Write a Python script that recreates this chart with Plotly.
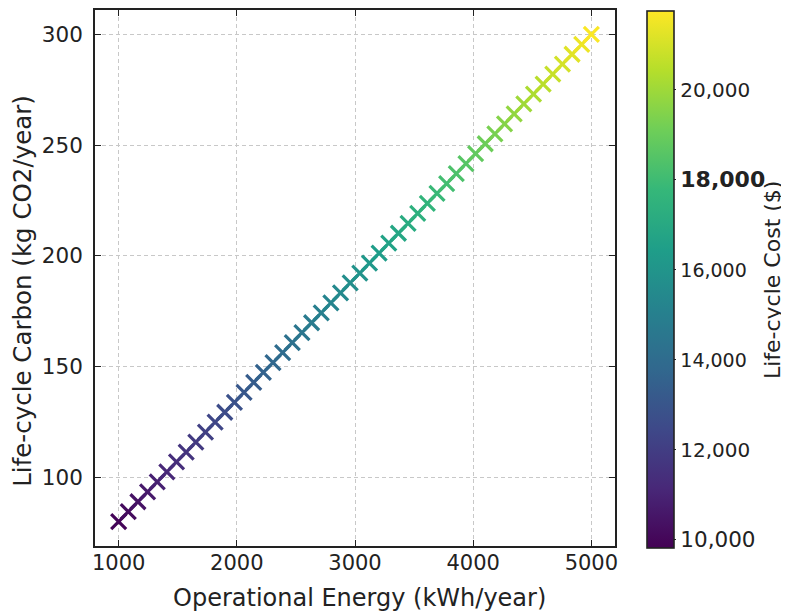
import numpy as np
import plotly.graph_objects as go

# Data (50 evenly spaced design points)
n_points = 50
energy = list(np.linspace(1000, 5000, n_points))      # kWh/year
carbon = list(np.linspace(80, 300, n_points))         # kg CO2/year
cost = list(np.linspace(9950, 21700, n_points))       # $
cost_min, cost_max = 9820, 21760

x_ticks = [1000, 2000, 3000, 4000, 5000]
y_ticks = [100, 150, 200, 250, 300]
cb_ticks = [10000, 12000, 14000, 16000, 18000, 20000]
cb_labels = ["10,000", "12,000", "14,000", "16,000", "18,000", "20,000"]
cb_label_sizes = [21.5, 20, 19, 19, 22, 20]
cb_label_bold = [False, False, False, False, True, False]

font = "DejaVu Sans"
ink = "#222222"

# the page body has an 8px margin, so the figure is drawn 8px smaller
W, H = 781, 604
L, R, T, B = 87, 173.5, 1.5, 66
plot_w = W - L - R
plot_h = H - T - B


def px_x(page_x):
    return (page_x - 8 - L) / plot_w


def px_y(page_y):
    return (H - B - (page_y - 8)) / plot_h


cb_text = []
for lab, sz, bold in zip(cb_labels, cb_label_sizes, cb_label_bold):
    t = f"<span style='font-size:{sz}px'>{lab}</span>"
    cb_text.append(f"<b>{t}</b>" if bold else t)

fig = go.Figure(go.Scatter(
    x=energy, y=carbon, mode="markers", cliponaxis=False,
    marker=dict(
        symbol="x-thin", size=15,
        color=cost, colorscale="Viridis", cmin=cost_min, cmax=cost_max,
        line=dict(width=3.2, color=cost, colorscale="Viridis",
                  cmin=cost_min, cmax=cost_max),
        colorbar=dict(
            x=px_x(647.3), xanchor="left", xref="paper", xpad=0,
            y=px_y(279), yanchor="middle", ypad=0,
            len=538 / plot_h, lenmode="fraction",
            thickness=27, outlinewidth=1.6, outlinecolor=ink,
            tickvals=cb_ticks, ticktext=cb_text, ticks="outside",
            ticklen=2, tickcolor=ink, tickwidth=1.2,
            tickfont=dict(family=font, size=20, color=ink),
        ),
    ),
    showlegend=False,
))

axis_common = dict(
    showline=True, linecolor=ink, linewidth=1.6, mirror="allticks",
    ticks="inside", ticklen=6, tickcolor=ink, tickwidth=1.2,
    showgrid=True, gridcolor="#c8c8c8", griddash="4px,3px", gridwidth=1,
    zeroline=False,
)

fig.update_layout(
    width=W, height=H,
    margin=dict(l=L, r=R, t=T, b=B, autoexpand=False),
    paper_bgcolor="white", plot_bgcolor="white",
    xaxis=dict(range=[800, 5200], tickvals=x_ticks, ticklabelstandoff=-3,
               tickfont=dict(family=font, size=21, color=ink),
               **axis_common),
    yaxis=dict(range=[69, 311], tickvals=y_ticks, ticklabelstandoff=6,
               tickfont=dict(family=font, size=21.5, color=ink),
               **axis_common),
    annotations=[
        dict(text="Operational Energy (kWh/year)", xref="paper", yref="paper",
             x=px_x(360), y=px_y(598.5), xanchor="center", yanchor="middle",
             showarrow=False, font=dict(family=font, size=24, color=ink)),
        dict(text="Life-cycle Carbon (kg CO2/year)", xref="paper", yref="paper",
             x=px_x(23), y=px_y(290.5), xanchor="center", yanchor="middle",
             textangle=-90, showarrow=False,
             font=dict(family=font, size=24.5, color=ink)),
        dict(text="Life-cycle Cost ($)", xref="paper", yref="paper",
             x=px_x(773), y=px_y(279.5), xanchor="center", yanchor="middle",
             textangle=-90, showarrow=False,
             font=dict(family=font, size=22, color=ink)),
    ],
)

fig.write_html("out.html")
